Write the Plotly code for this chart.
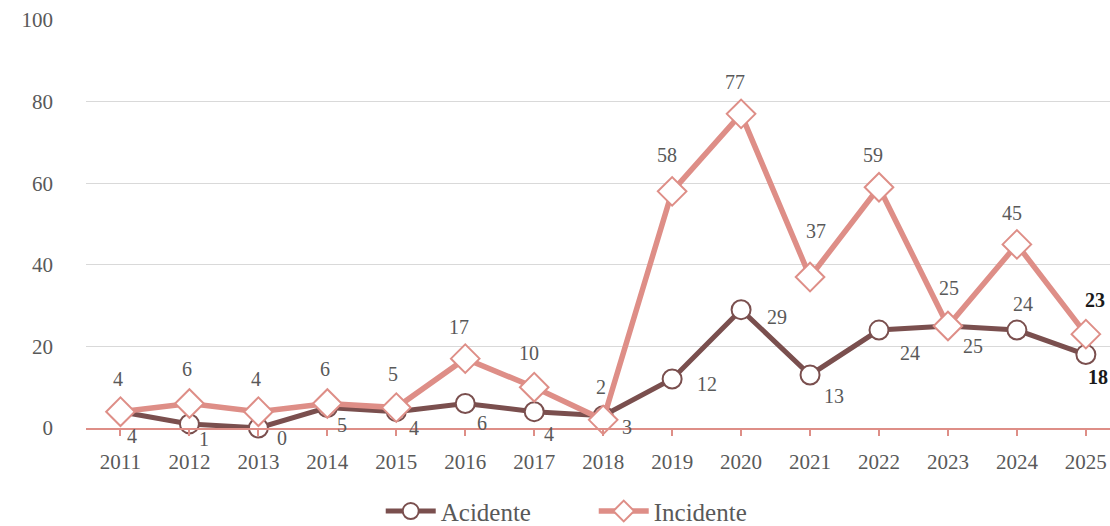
import plotly.graph_objects as go

# Annual counts 2011-2025
years = ["2011", "2012", "2013", "2014", "2015", "2016", "2017", "2018",
         "2019", "2020", "2021", "2022", "2023", "2024", "2025"]
acidente = [4, 1, 0, 5, 4, 6, 4, 3, 12, 29, 13, 24, 25, 24, 18]
incidente = [4, 6, 4, 6, 5, 17, 10, 2, 58, 77, 37, 59, 25, 45, 23]
y_ticks = [0, 20, 40, 60, 80, 100]

# Label offsets in pixels (dx, dy up) for each point's value label
acid_off = [(12, -24), (15, -15), (24, -10), (15, -17), (18, -16), (17, -19),
            (15, -22), (24, -11), (35, -5), (36, -7), (24, -21), (31, -23),
            (25, -20), (6, 26), (12, -22)]
inc_off = [(-2, 33), (-2, 35), (-2, 33), (-2, 35), (-3, 34), (-6, 32),
           (-5, 34), (-2, 33), (-5, 36), (-6, 32), (6, 46), (-6, 32),
           (1, 38), (-5, 31), (9, 34)]

DARK = "#7a4f4e"
PINK = "#de8e87"
GREY = "#595959"
FONT = "Liberation Serif"

fig = go.Figure()
fig.add_trace(go.Scatter(
    x=years, y=acidente, name="Acidente", mode="lines+markers",
    line=dict(color=DARK, width=5),
    marker=dict(symbol="circle", size=19, color="white",
                line=dict(color=DARK, width=2)),
    cliponaxis=False,
))
fig.add_trace(go.Scatter(
    x=years, y=incidente, name="Incidente", mode="lines+markers",
    line=dict(color=PINK, width=5.5),
    marker=dict(symbol="diamond", size=22, color="white",
                line=dict(color=PINK, width=2)),
    cliponaxis=False,
))


def add_value_labels(values, offsets):
    # category index positions the label on the same point as the marker
    last = len(values) - 1
    for i, v in enumerate(values):
        dx, dy = offsets[i]
        bold = i == last
        fig.add_annotation(
            x=i, y=v, text=f"<b>{v}</b>" if bold else str(v),
            showarrow=False, xshift=dx, yshift=dy,
            font=dict(family=FONT, size=20,
                      color="#1a1a1a" if bold else GREY),
        )


add_value_labels(acidente, acid_off)
add_value_labels(incidente, inc_off)

fig.update_layout(
    width=1110, height=526,
    margin=dict(l=86, r=0, t=20, b=98),
    paper_bgcolor="white", plot_bgcolor="white",
    font=dict(family=FONT, color=GREY, size=21),
    showlegend=True,
    legend=dict(
        orientation="h", xref="container", yref="container",
        x=0.343, xanchor="left", y=0.028, yanchor="middle",
        font=dict(family=FONT, size=25, color=GREY),
        itemwidth=50, entrywidth=148, entrywidthmode="pixels",
        tracegroupgap=0,
    ),
    xaxis=dict(
        type="category", range=[-0.5, 14.35],
        showgrid=False, zeroline=False,
        showline=True, linecolor=PINK, linewidth=1.5,
        ticks="outside", tickcolor=PINK, ticklen=6, tickwidth=1.5,
        ticklabelstandoff=8,
        tickfont=dict(family=FONT, size=21, color=GREY),
    ),
    yaxis=dict(
        range=[0, 100], tickvals=y_ticks,
        showgrid=True, gridcolor="#d9d9d9", gridwidth=1,
        zeroline=False, showline=False, ticks="",
        ticklabelstandoff=32,
        tickfont=dict(family=FONT, size=21, color=GREY),
    ),
)

fig.write_html("out.html")
